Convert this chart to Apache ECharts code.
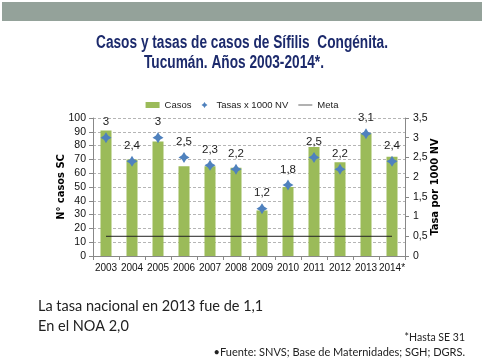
<!DOCTYPE html>
<html><head><meta charset="utf-8">
<script src="https://cdn.jsdelivr.net/npm/echarts@6/dist/echarts.min.js"></script>
<style>html,body{margin:0;padding:0;background:#fff}#c{width:484px;height:364px}</style>
</head><body><div id="c"></div>
<script>
var years = ['2003','2004','2005','2006','2007','2008','2009','2010','2011','2012','2013','2014*'];
var casos = [91, 70, 83, 65, 65, 64, 33, 50, 79, 68, 89, 72];
var tasas = [3, 2.4, 3, 2.5, 2.3, 2.2, 1.2, 1.8, 2.5, 2.2, 3.1, 2.4];
var meta = [0.5, 0.5, 0.5, 0.5, 0.5, 0.5, 0.5, 0.5, 0.5, 0.5, 0.5, 0.5];
var cond = '"DejaVu Sans Condensed", "Liberation Sans", Arial, sans-serif';
var sans = '"Liberation Sans", Arial, sans-serif';
var star = 'path://M0,-10L3.8,-3.8L10,0L3.8,3.8L0,10L-3.8,3.8L-10,0L-3.8,-3.8Z';
var fmt = function (v) { return String(v).replace('.', ','); };
var chart = echarts.init(document.getElementById('c'));
chart.setOption({
  animation: false,
  legend: {
    top: 95, left: 'center', itemGap: 10,
    textStyle: { fontFamily: sans, fontSize: 9.5, color: '#222' },
    data: [
      { name: 'Casos', icon: 'rect', itemStyle: { color: '#9bbb59' } },
      { name: 'Tasas x 1000 NV', icon: star },
      { name: 'Meta', icon: 'path://M0,0L20,0L20,1L0,1Z' }
    ],
    itemWidth: 14, itemHeight: 6
  },
  grid: { left: 93, right: 79, top: 118, bottom: 108 },
  xAxis: {
    type: 'category', data: years, boundaryGap: true,
    axisLine: { lineStyle: { color: '#888' } },
    axisTick: { show: true, alignWithLabel: false, length: 4, lineStyle: { color: '#888' } },
    axisLabel: { interval: 0, fontFamily: sans, fontSize: 10, color: '#111', margin: 7 }
  },
  yAxis: [
    {
      type: 'value', min: 0, max: 100, interval: 10,
      name: 'N° casos SC', nameLocation: 'middle', nameRotate: 90, nameGap: 26, nameMoveOverlap: false,
      nameTextStyle: { fontFamily: cond, fontWeight: 'bold', fontSize: 11, color: '#000' },
      axisLine: { show: true, lineStyle: { color: '#888' } },
      axisTick: { show: true, inside: false, length: 4, lineStyle: { color: '#888' } },
      axisLabel: { fontFamily: sans, fontSize: 10.5, color: '#111', margin: 7 },
      splitLine: { show: true, lineStyle: { color: '#b5b5b5', type: [3, 2] } }
    },
    {
      type: 'value', min: 0, max: 3.5, interval: 0.5,
      name: 'Tasa por 1000 NV', nameLocation: 'middle', nameRotate: 90, nameGap: 25, nameMoveOverlap: false,
      nameTextStyle: { fontFamily: cond, fontWeight: 'bold', fontSize: 11, color: '#000' },
      axisLine: { show: true, lineStyle: { color: '#888' } },
      axisTick: { show: true, length: 4, lineStyle: { color: '#888' } },
      axisLabel: { fontFamily: sans, fontSize: 10.5, color: '#111', margin: 8, formatter: fmt },
      splitLine: { show: false }
    }
  ],
  series: [
    {
      name: 'Casos', type: 'bar', data: casos, barWidth: 11,
      itemStyle: { color: '#9bbb59' }
    },
    {
      name: 'Tasas x 1000 NV', type: 'line', yAxisIndex: 1, data: tasas,
      lineStyle: { width: 0, opacity: 0 }, symbol: star, symbolSize: 11,
      itemStyle: { color: '#4f81bd' },
      label: { show: true, position: 'top', distance: 4, fontFamily: sans, fontSize: 11.5, color: '#222', formatter: function (p) { return fmt(p.value); } },
      z: 5
    },
    {
      name: 'Meta', type: 'line', yAxisIndex: 1, data: meta,
      symbol: 'none', lineStyle: { color: '#222', width: 1 }, itemStyle: { color: '#222' }
    }
  ],
  graphic: [
    { type: 'rect', shape: { x: 2, y: 2, width: 480, height: 19 }, style: { fill: '#94a29a' } },
    { type: 'text', x: 242, y: 43, scaleX: 0.76, style: { text: 'Casos y tasas de casos de Sífilis  Congénita.', font: 'bold 18px "Liberation Sans", Arial, sans-serif', fill: '#1c2a6c', align: 'center', verticalAlign: 'middle' } },
    { type: 'text', x: 234, y: 63, scaleX: 0.76, style: { text: 'Tucumán. Años 2003-2014*.', font: 'bold 18px "Liberation Sans", Arial, sans-serif', fill: '#1c2a6c', align: 'center', verticalAlign: 'middle' } },
    { type: 'text', left: 38, top: 299, style: { text: 'La tasa nacional en 2013 fue de 1,1', font: '14.5px Lato, "Open Sans", sans-serif', fill: '#222' } },
    { type: 'text', left: 38, top: 319, style: { text: 'En el NOA 2,0', font: '14.5px Lato, "Open Sans", sans-serif', fill: '#222' } },
    { type: 'text', right: 19, top: 332, style: { text: '*Hasta SE 31', font: '10.5px Lato, "Open Sans", sans-serif', fill: '#222' } },
    { type: 'text', right: 19, top: 347, style: { text: '•Fuente: SNVS; Base de Maternidades; SGH; DGRS.', font: '11px Lato, "Open Sans", sans-serif', fill: '#222' } }
  ]
});
</script></body></html>
